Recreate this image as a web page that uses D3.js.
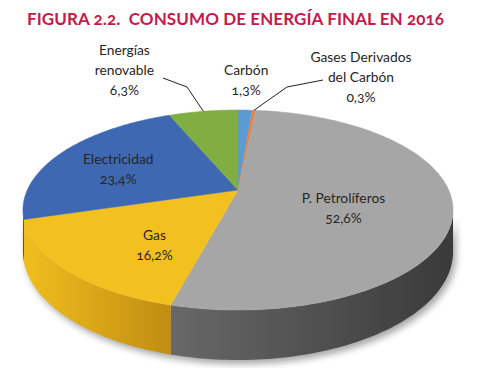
<!DOCTYPE html>
<html>
<head>
<meta charset="utf-8">
<script src="https://cdn.jsdelivr.net/npm/d3@7"></script>
<style>
  body { margin: 0; background: #fff; }
  svg { display: block; font-family: Lato, "Open Sans", sans-serif; font-variant-numeric: oldstyle-nums; }
</style>
</head>
<body>
<svg id="chart" width="480" height="368"></svg>
<script>
// ===== data =====
const categories = ["Carbón", "Gases Derivados del Carbón", "P. Petrolíferos", "Gas", "Electricidad", "Energías renovable"];
const values = [1.3, 0.3, 52.6, 16.2, 23.4, 6.3];
const valueLabels = ["1,3%", "0,3%", "52,6%", "16,2%", "23,4%", "6,3%"];
const labelLines = [["Carbón"], ["Gases Derivados", "del Carbón"], ["P. Petrolíferos"], ["Gas"], ["Electricidad"], ["Energías", "renovable"]];

const topColors = ["#5b9bd5", "#e8803f", "#a6a6a6", "#f3c11f", "#3e68b1", "#80ae42"];
const sideColors = [["#4a85bd", "#3a6e9f"], ["#c9672c", "#a85420"], ["#686868", "#3a3a3a"], ["#f0be1e", "#c18d12"], ["#33579a", "#29477f"], ["#6c9536", "#587d2a"]];

// ===== pseudo 3D projection =====
const cx = 238, cy = 190;
const rx = 210.7, ry = 96, k = 0.2, depth = 40;

function proj(theta, r, drop) {
    const u = Math.sin(theta) * r, v = Math.cos(theta) * r;
    const s = 1 / (1 + k * v);
    return [cx + rx * u * s, cy - ry * v * s + (drop ? depth * s : 0)];
}

function arcPoints(a0, a1, drop) {
    const n = Math.max(2, Math.ceil((a1 - a0) / 0.02));
    return d3.range(n + 1).map(i => proj(a0 + (a1 - a0) * i / n, 1, drop));
}

const svg = d3.select("#chart");
const defs = svg.append("defs");

defs.append("filter").attr("id", "blur")
    .attr("x", "-10%").attr("y", "-10%").attr("width", "120%").attr("height", "130%")
    .append("feGaussianBlur").attr("stdDeviation", 3.5);

const pie = d3.pie().sort(null).startAngle(0).endAngle(2 * Math.PI);
const arcs = pie(values);
const line = d3.line();

// title
svg.append("text")
    .attr("x", 27).attr("y", 25)
    .attr("fill", "#c41a4c")
    .attr("font-size", 17)
    .attr("font-weight", "bold")
    .attr("textLength", 417)
    .style("white-space", "pre")
    .text("FIGURA 2.2.  CONSUMO DE ENERGÍA FINAL EN 2016");

const thL = Math.acos(-k), thR = 2 * Math.PI - thL;

// shadow
const outline = arcPoints(thL, thR, true).concat(arcPoints(thL, thR, false).reverse());
svg.append("path")
    .attr("d", line(outline) + "Z")
    .attr("transform", "translate(3,4)")
    .attr("fill", "#000")
    .attr("opacity", 0.35)
    .attr("filter", "url(#blur)");

// side walls
const g = svg.append("g");
arcs.forEach((d, i) => {
    const a0 = Math.max(d.startAngle, thL), a1 = Math.min(d.endAngle, thR);
    if (a1 <= a0) return;
    const grad = defs.append("linearGradient").attr("id", "side" + i)
        .attr("x1", "0%").attr("x2", "100%");
    grad.append("stop").attr("offset", "0%").attr("stop-color", sideColors[i][0]);
    grad.append("stop").attr("offset", "100%").attr("stop-color", sideColors[i][1]);
    const pts = arcPoints(a0, a1, false).concat(arcPoints(a0, a1, true).reverse());
    g.append("path")
        .attr("d", line(pts) + "Z")
        .attr("fill", "url(#side" + i + ")");
});

// top faces
arcs.forEach((d, i) => {
    const pts = [[cx, cy]].concat(arcPoints(d.startAngle, d.endAngle, false));
    g.append("path")
        .attr("d", line(pts) + "Z")
        .attr("fill", topColors[i])
        .attr("stroke", topColors[i])
        .attr("stroke-width", 0.5);
});

// labels
const labelOpts = [
    { r: 1.55, dx: 1, dy: -30, leader: false },
    { r: 1.55, dx: 107, dy: -33, leader: [[287, 87], [323, 80]] },
    { r: 0.5, dx: 0, dy: 9, leader: false },
    { r: 0.55, dx: 4, dy: 14, leader: false },
    { r: 0.6, dx: -11, dy: 2, leader: false },
    { r: 1.55, dx: -79, dy: -41, leader: [[187, 87], [163, 78]] }
];

arcs.forEach((d, i) => {
    const o = labelOpts[i];
    const mid = (d.startAngle + d.endAngle) / 2;
    const edge = proj(mid, 1, false);
    const lines = labelLines[i].concat([valueLabels[i]]);
    let p;
    if (o.r > 1) p = [edge[0] + o.dx, edge[1] + o.dy];
    else { p = proj(mid, o.r, false); p = [p[0] + o.dx, p[1] + o.dy]; }

    if (o.leader) {
        svg.append("path")
            .attr("d", line([edge].concat(o.leader)))
            .attr("fill", "none")
            .attr("stroke", "#222")
            .attr("stroke-width", 1);
    }
    const t = svg.append("text")
        .attr("text-anchor", "middle")
        .attr("font-size", 13.8)
        .attr("fill", "#262626");
    lines.forEach((s, j) => {
        t.append("tspan")
            .attr("x", p[0])
            .attr("y", p[1] + (j - (lines.length - 1) / 2) * 20 + 5)
            .text(s);
    });
});
</script>
</body>
</html>
